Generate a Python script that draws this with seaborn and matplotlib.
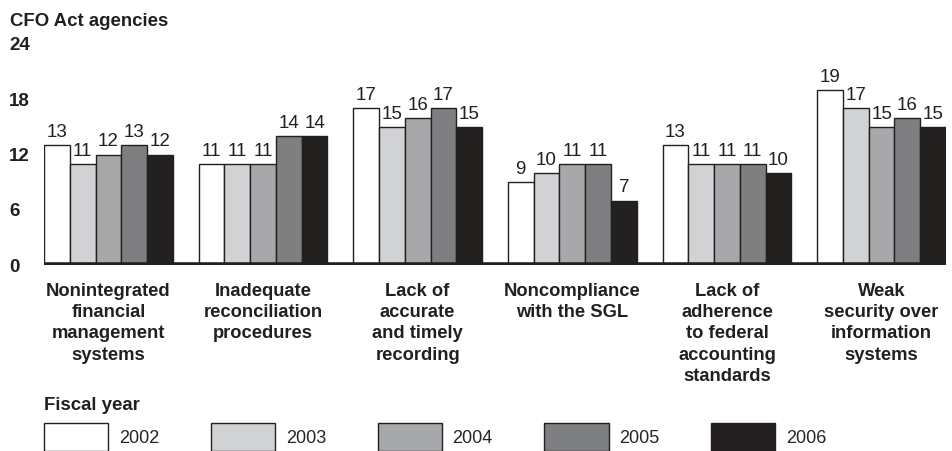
import pandas as pd
import seaborn as sns
import matplotlib.pyplot as plt
from matplotlib.patches import Patch

# Weakness categories and counts of CFO Act agencies per fiscal year
categories = [
    "Nonintegrated\nfinancial\nmanagement\nsystems",
    "Inadequate\nreconciliation\nprocedures",
    "Lack of\naccurate\nand timely\nrecording",
    "Noncompliance\nwith the SGL",
    "Lack of\nadherence\nto federal\naccounting\nstandards",
    "Weak\nsecurity over\ninformation\nsystems",
]
years = ["2002", "2003", "2004", "2005", "2006"]
counts_2002 = [13, 11, 17, 9, 13, 19]
counts_2003 = [11, 11, 15, 10, 11, 17]
counts_2004 = [12, 11, 16, 11, 11, 15]
counts_2005 = [13, 14, 17, 11, 11, 16]
counts_2006 = [12, 14, 15, 7, 10, 15]
yticks = [0, 6, 12, 18, 24]

colors = ["#ffffff", "#d1d2d4", "#a7a8ab", "#7e7f82", "#231f20"]

rows = []
for year, vals in zip(years, [counts_2002, counts_2003, counts_2004, counts_2005, counts_2006]):
    for cat, v in zip(categories, vals):
        rows.append({"category": cat, "year": year, "count": v})
df = pd.DataFrame(rows)

sns.set_style("white")
plt.rcParams["font.family"] = ["Liberation Sans", "DejaVu Sans"]

fig = plt.figure(figsize=(9.52, 4.51), dpi=100)
ax = fig.add_axes([44 / 952, (451 - 265) / 451, (946 - 44) / 952, (265 - 44) / 451])

sns.barplot(data=df, x="category", y="count", hue="year", hue_order=years,
            palette=colors, width=0.833, edgecolor="#231f20", linewidth=1,
            legend=False, ax=ax)

for container in ax.containers:
    ax.bar_label(container, padding=3, fontsize=13.5, color="#231f20")

ax.set_xlim(-0.4167, 5.4167)
ax.set_ylim(0, 24)
ax.axhline(0, color="#231f20", lw=4, zorder=5)
for s in ax.spines.values():
    s.set_visible(False)

ax.set_yticks(yticks)
ax.set_yticklabels([str(t) for t in yticks], fontweight="bold", fontsize=13.5, color="#231f20")
for lab in ax.get_yticklabels():
    lab.set_horizontalalignment("left")
ax.tick_params(axis="y", length=0, pad=25)
ax.tick_params(axis="x", length=0, pad=13)
ax.set_xticks(range(len(categories)))
ax.set_xticklabels(categories, fontweight="bold", fontsize=13.2, color="#231f20",
                   linespacing=1.32)
ax.set_xlabel("")
ax.set_ylabel("")

fig.text(10 / 952, 1 - 22 / 451, "CFO Act agencies", fontweight="bold", fontsize=13.4,
         va="center", ha="left", color="#231f20")
fig.text(44 / 952, 1 - 406 / 451, "Fiscal year", fontweight="bold", fontsize=13.4,
         va="center", ha="left", color="#231f20")

handles = [Patch(facecolor=c, edgecolor="#231f20", linewidth=1) for c in colors]
fig.legend(handles, years, loc="upper left", bbox_to_anchor=(44 / 952, 1 - 423 / 451),
           ncol=5, frameon=False, fontsize=13, handlelength=3.55, handleheight=2.0,
           handletextpad=0.6, columnspacing=2.86, borderpad=0, borderaxespad=0)

fig.savefig("out.png", dpi=100)
